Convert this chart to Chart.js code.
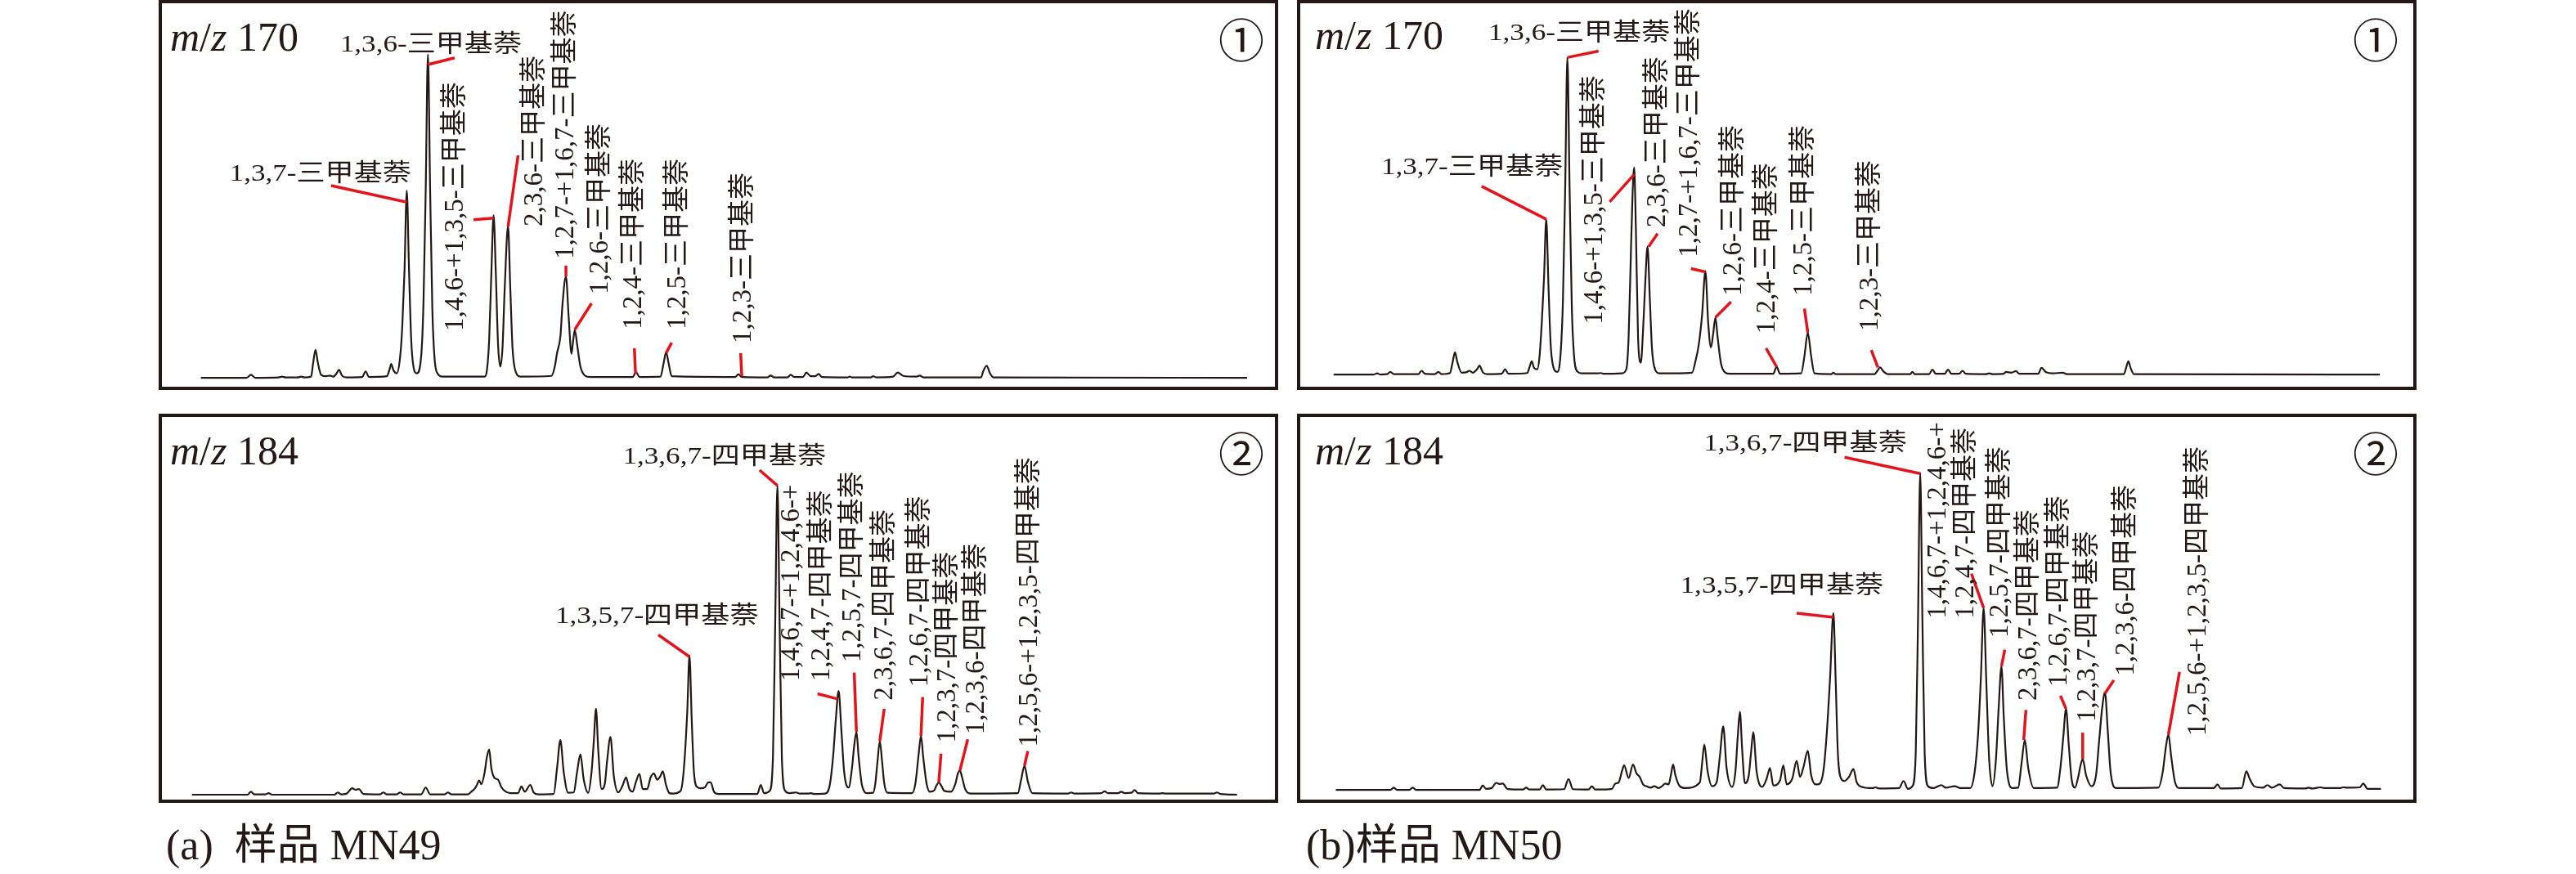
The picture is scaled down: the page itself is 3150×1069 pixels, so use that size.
<!DOCTYPE html>
<html><head><meta charset="utf-8">
<script src="https://cdn.jsdelivr.net/npm/chart.js@4.4.1/dist/chart.umd.min.js"></script>
<style>
html,body{margin:0;padding:0;background:#fff;}
body{width:3150px;height:1069px;position:relative;overflow:hidden;font-family:"Liberation Serif","Noto Sans CJK SC",serif;color:#231815;}
.panel{position:absolute;box-sizing:border-box;border:4px solid #231815;background:#fff;}
.panel canvas{position:absolute;left:0;top:0;}
.mz{position:absolute;font-size:50px;line-height:50px;white-space:nowrap;z-index:2;}
.circ{position:absolute;width:56px;text-align:center;font-family:"Noto Sans CJK SC";font-weight:400;font-size:56px;line-height:56px;z-index:2;}
.cap{position:absolute;font-size:52px;line-height:52px;white-space:nowrap;}
</style></head><body>

<div class="panel" id="pa1" style="left:194px;top:0px;width:1369px;height:477px;">
  <canvas id="ca1" width="1361" height="469"></canvas>
  <div class="mz" style="left:10px;top:16px;"><i>m</i>/<i>z</i> 170</div>
  <div class="circ" style="left:1292px;top:14px;">①</div>
</div>
<div class="panel" id="pb1" style="left:1586px;top:0px;width:1369px;height:477px;">
  <canvas id="cb1" width="1361" height="469"></canvas>
  <div class="mz" style="left:18px;top:14px;"><i>m</i>/<i>z</i> 170</div>
  <div class="circ" style="left:1287px;top:14px;">①</div>
</div>
<div class="panel" id="pa2" style="left:194px;top:506px;width:1369px;height:476px;">
  <canvas id="ca2" width="1361" height="468"></canvas>
  <div class="mz" style="left:10px;top:16px;"><i>m</i>/<i>z</i> 184</div>
  <div class="circ" style="left:1292px;top:14px;">②</div>
</div>
<div class="panel" id="pb2" style="left:1586px;top:506px;width:1369px;height:476px;">
  <canvas id="cb2" width="1361" height="468"></canvas>
  <div class="mz" style="left:18px;top:16px;"><i>m</i>/<i>z</i> 184</div>
  <div class="circ" style="left:1287px;top:14px;">②</div>
</div>
<div class="cap" style="left:203px;top:1008px;">(a)&ensp;样品 MN49</div>
<div class="cap" style="left:1597px;top:1008px;">(b)样品 MN50</div>

<script>
// ---------------- DATA ----------------
// compound names
const triNames = ["1,3,7-三甲基萘","1,3,6-三甲基萘","1,4,6-+1,3,5-三甲基萘","2,3,6-三甲基萘","1,2,7-+1,6,7-三甲基萘","1,2,6-三甲基萘","1,2,4-三甲基萘","1,2,5-三甲基萘","1,2,3-三甲基萘"];
const tetraNames = ["1,3,5,7-四甲基萘","1,3,6,7-四甲基萘","1,4,6,7-+1,2,4,6-+","1,2,4,7-四甲基萘","1,2,5,7-四甲基萘","2,3,6,7-四甲基萘","1,2,6,7-四甲基萘","1,2,3,7-四甲基萘","1,2,3,6-四甲基萘","1,2,5,6-+1,2,3,5-四甲基萘"];
const panelTitles = ["m/z 170","m/z 184"];
// chromatogram traces [relative retention, relative intensity %]
const traceMN49_170 = [[3.5,0],[7.6,0],[8.0,0.8],[8.4,0],[10.5,0.1],[10.8,0.3],[11.1,0.1],[12.2,0.1],[12.5,0.3],[12.8,0.1],[13.4,0.3],[13.6,4.2],[13.8,7.5],[14.0,4.2],[14.3,0.8],[14.7,0.4],[15.1,0.6],[15.4,0.3],[15.7,1.2],[15.9,2.1],[16.2,0.5],[16.6,0.1],[18.0,0.2],[18.3,1.7],[18.6,0.2],[20.2,0.4],[20.45,2.2],[20.6,3.7],[20.8,2.0],[21.1,1.2],[21.4,5.5],[21.6,14],[21.8,29],[22.0,50.1],[22.2,29],[22.4,10],[22.6,3],[22.9,1.2],[23.3,6],[23.5,20],[23.7,50],[23.9,86.5],[24.1,50],[24.3,18],[24.5,5],[24.8,1],[25.2,0.3],[29.0,0.3],[29.2,2],[29.4,10],[29.6,28],[29.8,43.5],[30.0,28],[30.2,9],[30.4,3.0],[30.6,8],[30.8,24],[31.1,40.6],[31.3,24],[31.5,8],[31.8,1.5],[32.2,0.3],[35.0,0.5],[35.3,3],[35.5,6.6],[35.8,11],[36.0,20],[36.3,27.1],[36.55,16],[36.8,6.4],[36.95,10],[37.1,12.8],[37.3,9],[37.6,3],[38.0,0.6],[38.5,0.2],[42.3,0.2],[42.6,1.5],[42.9,0.2],[44.8,0.3],[45.05,3.5],[45.3,6.8],[45.55,3.5],[45.8,0.4],[51.5,0.2],[51.8,0.9],[52.1,0.2],[54.4,0.1],[54.7,0.6],[55.0,0.1],[56.2,0.1],[56.5,0.8],[56.8,0.2],[57.6,0.2],[57.9,1.4],[58.3,0.4],[58.7,0.4],[59.0,1.0],[59.3,0.2],[61.6,0.1],[61.8,0.3],[62.0,0.1],[63.7,0.1],[63.9,0.4],[64.2,0.1],[65.7,0.3],[66.1,1.4],[66.6,0.5],[67.8,0.3],[68.1,0.6],[68.4,0.1],[73.6,0.1],[73.8,1.8],[74.1,3.2],[74.4,1.2],[74.7,0.1],[97.5,0]];
const traceMN50_170 = [[3.0,0],[6.6,0],[6.9,0.3],[7.2,0],[7.8,0.1],[8.1,0.7],[8.4,0.1],[10.6,0.1],[10.9,1.0],[11.2,0.2],[12.1,0.1],[12.4,0.7],[12.7,0.1],[13.45,0.4],[13.7,3.5],[13.9,6.0],[14.1,3.5],[14.5,0.5],[14.9,0.6],[15.2,1.0],[15.5,0.5],[15.9,1.5],[16.1,2.4],[16.4,0.6],[16.8,0.1],[18.1,0.2],[18.4,1.4],[18.7,0.2],[20.4,0.4],[20.6,2.0],[20.8,3.6],[21.0,1.8],[21.3,1.4],[21.5,5],[21.7,14],[21.9,26],[22.1,41.9],[22.3,24],[22.5,8],[22.7,2.5],[23.1,0.7],[23.4,6],[23.6,20],[23.8,50],[24.0,85.6],[24.2,50],[24.4,18],[24.6,5],[24.9,0.8],[25.3,0.3],[26.7,0.3],[27.0,0.4],[27.3,0.2],[28.9,0.3],[29.3,1.5],[29.5,10],[29.7,32],[29.85,48],[30.0,55.9],[30.15,40],[30.35,10],[30.6,3.2],[30.8,12],[31.0,25],[31.2,34.5],[31.4,21],[31.6,7],[31.9,1.2],[32.3,0.3],[35.2,0.5],[35.5,3.5],[35.8,8.0],[36.1,16],[36.4,27.9],[36.65,14],[36.9,7.3],[37.1,11],[37.3,15.4],[37.5,10],[37.8,3],[38.2,0.5],[38.6,0.2],[42.5,0.2],[42.8,2.1],[43.1,0.2],[45.0,0.3],[45.3,5],[45.6,11.3],[45.9,5],[46.2,0.3],[47.7,0.1],[47.9,0.5],[48.1,0.1],[51.6,0.1],[51.9,1.2],[52.1,1.9],[52.4,0.8],[52.8,0.1],[54.8,0.1],[55.0,0.7],[55.2,0.1],[56.5,0.1],[56.8,1.3],[57.1,0.2],[57.9,0.2],[58.2,1.3],[58.5,0.2],[59.2,0.2],[59.5,1.0],[59.8,0.2],[61.6,0.1],[61.9,0.3],[62.2,0.1],[63.2,0.2],[63.4,0.7],[63.9,0.5],[64.3,0.9],[64.6,0.2],[66.3,0.2],[66.6,1.8],[67.0,0.6],[67.6,0.3],[68.5,0.5],[68.9,0.1],[74.0,0.1],[74.2,1.8],[74.4,3.6],[74.6,1.8],[74.9,0.1],[97.0,0]];
const traceMN49_184 = [[2.7,0],[7.7,0],[8.0,0.8],[8.3,0.1],[9.3,0.1],[9.6,0.4],[9.9,0],[15.5,0],[15.8,0.6],[16.1,0.1],[16.6,0.3],[17.1,1.7],[17.4,1.3],[17.7,1.5],[18.1,0.2],[19.6,0.1],[19.9,0.6],[20.2,0.1],[21.1,0.1],[21.4,0.6],[21.7,0.1],[23.3,0.1],[23.7,1.9],[24.1,0.1],[25.4,0.1],[25.7,0.6],[26.0,0.1],[27.5,0.1],[27.8,0.8],[28.1,1.6],[28.3,2.6],[28.5,3.8],[28.7,2.8],[29.0,6],[29.2,10],[29.4,12.0],[29.6,7],[29.9,4.4],[30.2,4.0],[30.5,2.0],[30.8,1.0],[31.3,0.4],[32.0,0.4],[32.3,2.2],[32.6,0.8],[33.1,2.6],[33.4,0.6],[33.8,0.1],[35.2,0.2],[35.5,7],[35.8,14.5],[36.1,6],[36.5,0.5],[37.0,0.6],[37.3,6],[37.6,10.7],[37.9,4],[38.3,0.5],[38.6,6],[38.8,14],[39.0,22.8],[39.2,12],[39.5,1.5],[39.8,3],[40.0,9],[40.3,15.3],[40.6,5],[41.0,0.6],[41.4,2.5],[41.7,4.6],[42.0,1.5],[42.3,0.8],[42.6,3.5],[42.9,5.5],[43.2,1.5],[43.6,1.5],[43.9,4.5],[44.2,5.6],[44.5,4.0],[44.8,5.0],[45.0,6.2],[45.3,2.5],[45.6,0.4],[45.9,0.3],[46.6,1],[46.9,7],[47.2,22],[47.4,36.9],[47.6,20],[47.8,6],[48.1,2.0],[48.4,1.7],[48.8,2.0],[49.1,3.3],[49.3,3.3],[49.6,0.8],[50.0,0.2],[53.5,0.2],[53.8,2.6],[54.1,0.4],[54.6,1],[54.9,10],[55.1,45],[55.3,82.1],[55.5,45],[55.7,10],[56.0,1],[56.4,0.4],[57.0,0.6],[57.3,0.3],[58.1,0.3],[58.3,0.4],[58.6,0.2],[59.6,0.3],[60.0,2.5],[60.3,10],[60.55,20],[60.8,27.5],[61.05,17],[61.3,6],[61.7,1.9],[62.0,7],[62.2,13],[62.4,16.7],[62.6,10],[62.9,2.5],[63.4,0.4],[63.9,0.5],[64.1,3],[64.3,9],[64.5,14.2],[64.7,9],[64.9,3],[65.2,0.5],[67.4,0.4],[67.7,3],[68.0,11],[68.2,15.6],[68.4,10],[68.7,3],[69.0,0.8],[69.4,1.2],[69.6,2.5],[69.8,3.2],[70.0,2.5],[70.3,1.0],[70.9,0.8],[71.3,3],[71.5,5.5],[71.7,6.4],[71.9,4.5],[72.2,1.3],[72.7,0.3],[76.9,0.4],[77.2,4],[77.5,7.7],[77.8,3.5],[78.2,0.4],[81.4,0.3],[81.7,0.6],[82.0,0.3],[84.4,0.4],[84.7,0.9],[85.0,0.4],[85.9,0.4],[86.2,0.8],[86.5,0.4],[87.1,0.5],[87.4,1.2],[87.7,0.4],[89.6,0.3],[89.9,0.4],[90.2,0.3],[94.5,0.3],[94.8,0.6],[95.1,0.2],[96.6,0]];
const traceMN50_184 = [[3.2,0],[8.1,0],[8.4,0.6],[8.7,0],[9.8,0],[10.1,0.6],[10.4,0],[16.1,0],[16.4,1.2],[16.7,0.3],[17.2,0.5],[17.6,1.9],[17.9,1.6],[18.2,1.7],[18.6,0.3],[20.0,0.1],[20.3,0.6],[20.6,0.1],[21.5,0.1],[21.8,1.3],[22.1,0.1],[23.7,0.2],[24.1,2.9],[24.5,0.2],[25.9,0.1],[26.2,1.0],[26.5,0.1],[28.0,0.3],[28.3,1.7],[28.6,2.0],[28.9,5],[29.1,6.6],[29.5,3.2],[29.9,6.8],[30.2,4.5],[30.5,3.5],[30.8,1.5],[31.1,1.0],[31.5,0.6],[31.8,1.0],[32.2,0.5],[32.5,1.0],[32.8,1.7],[33.1,1.5],[33.3,4],[33.5,6.8],[33.7,4],[34.1,1.0],[34.6,0.5],[35.9,2],[36.1,7],[36.3,12.2],[36.6,5],[37.0,1.0],[37.4,2],[37.7,9],[38.0,17.1],[38.3,6],[38.8,0.8],[39.1,5],[39.3,14],[39.5,21.0],[39.7,11],[39.95,1.8],[40.3,4],[40.5,10],[40.7,15.5],[41.0,5],[41.5,0.8],[41.9,3],[42.2,5.9],[42.5,1.2],[43.1,2.5],[43.4,6.6],[43.7,1.5],[44.2,3],[44.6,7.8],[44.9,3.5],[45.2,6],[45.6,10.5],[45.9,4],[46.3,1.5],[46.5,1.5],[47.0,5],[47.3,15],[47.6,30],[47.9,47.5],[48.1,30],[48.3,10],[48.6,3],[48.9,2.4],[49.3,3.5],[49.7,5.6],[50.0,2],[50.6,0.7],[51.4,0.5],[51.7,0.7],[52.0,0.4],[53.8,0.5],[54.2,2.4],[54.6,0.3],[55.0,1],[55.3,10],[55.5,45],[55.7,85.2],[55.9,45],[56.1,10],[56.4,1],[56.9,0.5],[57.6,1.3],[58.0,0.6],[58.8,1.0],[59.3,0.5],[60.2,0.5],[60.6,5],[60.9,15],[61.15,30],[61.4,48.9],[61.65,28],[61.9,8],[62.2,1.0],[62.5,8],[62.75,22],[63.0,33.2],[63.2,20],[63.5,5],[64.0,0.5],[64.5,0.6],[64.8,7],[65.1,13.4],[65.4,6],[65.9,0.5],[68.0,0.6],[68.3,6],[68.55,14],[68.8,21.8],[69.05,12],[69.3,3],[69.6,0.6],[69.9,3.5],[70.1,6.5],[70.3,8.3],[70.6,4],[71.1,1.0],[71.5,4],[71.8,14],[72.05,22],[72.3,26.2],[72.55,16],[72.8,5],[73.3,0.5],[77.1,0.6],[77.5,5],[77.75,11],[78.0,14.9],[78.25,9],[78.6,2],[79.0,0.5],[82.1,0.5],[82.4,1.5],[82.7,0.4],[84.6,0.5],[85.0,5.0],[85.3,3],[85.7,1],[86.5,0.6],[86.9,1.3],[87.3,0.6],[88.0,1.5],[88.4,0.5],[90.3,0.4],[90.6,0.6],[90.9,0.4],[91.4,0.6],[91.7,0.7],[92.0,0.5],[93.4,0.5],[93.7,0.7],[94.0,0.6],[95.2,0.7],[95.5,1.7],[95.9,0.3],[97.1,0.3]];

// ---------------- LAYOUT (label placement, in axis units) ----------------
const layoutA1 = [
 {k:0,dir:'h',align:'right',tx:22.4,ty:52.7,ln:[15.2,51.4,22.0,47.0]},
 {k:1,dir:'h',align:'left',tx:16.0,ty:87.3,ln:[23.9,83.8,26.3,85.6]},
 {k:2,dir:'v',tx:26.4,ty:12.5,ln:[28.0,42.3,29.8,42.7]},
 {k:3,dir:'v',tx:33.5,ty:40.5,ln:[32.0,59.5,31.1,40.5]},
 {k:4,dir:'v',tx:36.3,ty:31.7,ln:[36.3,30.0,36.3,27.1]},
 {k:5,dir:'v',tx:39.4,ty:22.3,ln:[38.6,19.9,37.1,12.9]},
 {k:6,dir:'v',tx:42.4,ty:12.9,ln:[42.45,7.9,42.55,1.1]},
 {k:7,dir:'v',tx:46.4,ty:12.9,ln:[45.8,9.4,45.3,6.6]},
 {k:8,dir:'v',tx:52.3,ty:9.2,ln:[52.0,6.6,52.1,0.4]}
];
const layoutB1 = [
 {k:0,dir:'h',align:'right',tx:23.6,ty:54.1,ln:[16.3,50.8,22.1,41.9]},
 {k:1,dir:'h',align:'left',tx:16.9,ty:90.3,ln:[24.05,85.6,26.8,87.3]},
 {k:2,dir:'v',tx:26.5,ty:13.5,ln:[27.8,46.6,30.0,54.0]},
 {k:3,dir:'v',tx:32.1,ty:39.7,ln:[32.1,38.0,31.3,34.5]},
 {k:4,dir:'v',tx:35.0,ty:31.6,ln:[35.1,28.6,36.4,27.7]},
 {k:5,dir:'v',tx:39.0,ty:21.2,ln:[38.7,19.6,37.3,15.4]},
 {k:6,dir:'v',tx:42.0,ty:11.0,ln:[41.85,7.1,42.8,2.1]},
 {k:7,dir:'v',tx:45.3,ty:21.2,ln:[45.3,17.8,45.6,11.3]},
 {k:8,dir:'v',tx:51.2,ty:11.7,ln:[51.3,6.6,51.9,1.9]}
];
const layoutA2 = [
 {k:0,dir:'h',align:'right',tx:53.6,ty:45.6,ln:[44.6,42.4,47.4,36.6]},
 {k:1,dir:'h',align:'left',tx:41.4,ty:87.9,ln:[53.7,86.1,55.3,82.0]},
 {k:2,dir:'v',tx:56.6,ty:30.1,ln:null},
 {k:3,dir:'v',tx:59.3,ty:30.1,ln:[58.9,26.8,60.7,25.4]},
 {k:4,dir:'v',tx:62.1,ty:35.1,ln:[62.2,32.4,62.4,16.7]},
 {k:5,dir:'v',tx:65.0,ty:25.0,ln:[64.9,22.8,64.5,14.2]},
 {k:6,dir:'v',tx:68.1,ty:28.6,ln:[68.35,25.9,68.2,15.6]},
 {k:7,dir:'v',tx:70.6,ty:13.8,ln:[70.0,10.9,69.8,3.2]},
 {k:8,dir:'v',tx:73.2,ty:16.0,ln:[72.4,14.7,71.7,6.4]},
 {k:9,dir:'v',tx:78.0,ty:12.7,ln:[77.8,11.6,77.5,7.7]}
];
const layoutB2 = [
 {k:0,dir:'h',align:'right',tx:52.4,ty:53.0,ln:[44.6,47.5,47.9,46.4]},
 {k:1,dir:'h',align:'right',tx:54.5,ty:91.1,ln:[48.9,89.4,55.7,85.0]},
 {k:2,dir:'v',tx:57.3,ty:46.0,ln:null},
 {k:3,dir:'v',tx:59.8,ty:46.0,ln:[60.3,58.1,61.4,48.9]},
 {k:4,dir:'v',tx:62.9,ty:40.9,ln:[63.3,37.7,63.0,33.2]},
 {k:5,dir:'v',tx:65.5,ty:24.0,ln:[65.2,21.5,65.0,13.4]},
 {k:6,dir:'v',tx:68.2,ty:27.7,ln:[68.3,25.3,68.8,21.8]},
 {k:7,dir:'v',tx:70.8,ty:18.2,ln:[70.3,15.4,70.3,8.3]},
 {k:8,dir:'v',tx:74.2,ty:30.6,ln:[73.1,29.5,72.3,25.9]},
 {k:9,dir:'v',tx:80.7,ty:14.5,ln:[79.0,31.7,78.0,14.9]}
];

const INK = '#231815', RED = '#e2141c';
const FONT_V = '33px "Liberation Serif", "Noto Sans CJK SC"';
const FONT_H = '30px "Liberation Serif", "Noto Sans CJK SC"';

function labelPlugin(layout, names){
  return {
    id:'peakLabels',
    afterDatasetsDraw(chart){
      const ctx = chart.ctx, xs = chart.scales.x, ys = chart.scales.y;
      ctx.save();
      layout.forEach(L=>{
        if(L.ln){
          ctx.beginPath();
          ctx.strokeStyle = RED; ctx.lineWidth = 3.5; ctx.lineCap='butt';
          ctx.moveTo(xs.getPixelForValue(L.ln[0]), ys.getPixelForValue(L.ln[1]));
          ctx.lineTo(xs.getPixelForValue(L.ln[2]), ys.getPixelForValue(L.ln[3]));
          ctx.stroke();
        }
        const px = xs.getPixelForValue(L.tx), py = ys.getPixelForValue(L.ty);
        ctx.fillStyle = INK;
        ctx.save();
        ctx.translate(px, py);
        if(L.dir==='v'){
          ctx.rotate(-Math.PI/2);
          ctx.font = FONT_V; ctx.textAlign='left'; ctx.textBaseline='middle';
        } else {
          ctx.scale(1.17,1);
          ctx.font = FONT_H; ctx.textAlign=L.align; ctx.textBaseline='alphabetic';
        }
        ctx.fillText(names[L.k], 0, 0);
        ctx.restore();
      });
      ctx.restore();
    }
  };
}

function makeChart(id, trace, yMin, yMax, layout, names){
  const pts = trace.map(p=>({x:p[0], y:p[1]}));
  return new Chart(document.getElementById(id), {
    type:'line',
    data:{datasets:[{data:pts, borderColor:INK, borderWidth:2.2, pointRadius:0, fill:false, cubicInterpolationMode:'monotone'}]},
    options:{
      responsive:false, animation:false, events:[],
      layout:{padding:0},
      plugins:{legend:{display:false}, tooltip:{enabled:false}, title:{display:false}},
      scales:{
        x:{type:'linear', min:0, max:100, display:false},
        y:{type:'linear', min:yMin, max:yMax, display:false}
      }
    },
    plugins:[labelPlugin(layout, names)]
  });
}

document.fonts.ready.then(()=>{
  makeChart('ca1', traceMN49_170, -2.4, 100.2, layoutA1, triNames);
  makeChart('cb1', traceMN50_170, -3.3, 100.2, layoutB1, triNames);
  makeChart('ca2', traceMN49_184, -1.3, 100.2, layoutA2, tetraNames);
  makeChart('cb2', traceMN50_184, -2.6, 100.2, layoutB2, tetraNames);
});
</script>
</body></html>
